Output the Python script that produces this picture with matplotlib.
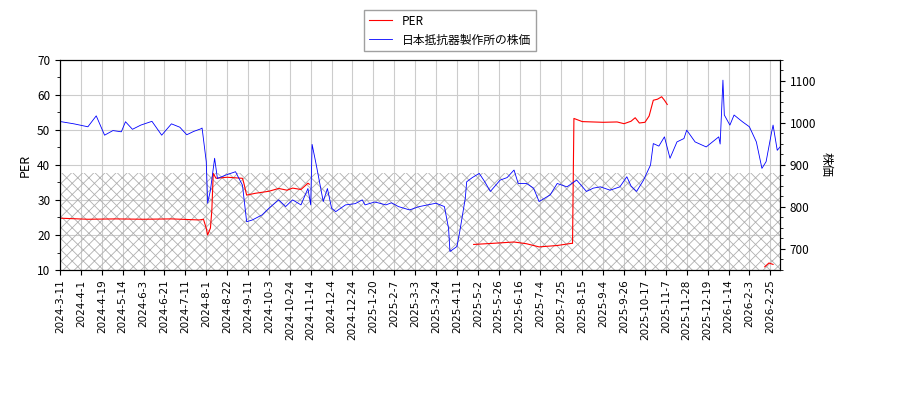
import matplotlib
matplotlib.use("Agg")
import matplotlib.pyplot as plt
import numpy as np
from matplotlib.ticker import MultipleLocator

plt.rcParams['font.family'] = ['Noto Sans CJK JP', 'DejaVu Sans']
plt.rcParams['hatch.color'] = '#b0b0b0'
plt.rcParams['hatch.linewidth'] = 0.6

tick_labels = ["2024-3-11","2024-4-1","2024-4-19","2024-5-14","2024-6-3","2024-6-21","2024-7-11",
    "2024-8-1","2024-8-22","2024-9-11","2024-10-3","2024-10-24","2024-11-14","2024-12-4","2024-12-24",
    "2025-1-20","2025-2-7","2025-3-3","2025-3-24","2025-4-11","2025-5-2","2025-5-26","2025-6-16",
    "2025-7-4","2025-7-25","2025-8-15","2025-9-4","2025-9-26","2025-10-17","2025-11-7","2025-11-28",
    "2025-12-19","2026-1-14","2026-2-3","2026-2-25"]

price_idx = [0,1,10,20,26,32,38,44,47,52,58,66,73,80,86,91,96,101,102,105,106,108,111,113,119,126,131,134,138,
    145,150,157,162,167,173,178,180,181,184,189,192,195,198,205,212,217,219,226,234,238,243,251,257,
    258,264,270,276,279,280,285,287,291,292,296,301,305,309,316,321,326,329,335,340,344,352,357,364,
    371,378,383,388,395,402,407,410,414,419,424,426,430,434,438,443,448,450,456,464,473,474,476,477,
    481,484,490,495,500,504,507,511,512,515,518]
price_val = [1003,1003,998,991,1017,971,982,979,1003,985,995,1004,971,998,990,972,980,986,988,908,809,840,916,868,
    876,884,852,765,769,781,797,817,801,817,805,844,805,949,900,813,844,797,789,805,808,817,805,812,805,
    810,801,793,800,801,805,809,801,749,694,706,741,821,860,870,880,860,837,864,870,888,856,856,845,813,
    829,856,848,864,837,845,848,840,848,872,850,837,864,900,951,945,967,916,955,963,983,955,943,967,950,
    1102,1019,995,1019,1003,991,955,892,908,979,995,935,947]

per_idx = [0,20,40,60,80,100,103,105,106,108,109,110,112,120,131,132,134,140,150,157,163,167,173,178,179,
    180,296,297,310,326,335,344,357,367,368,369,375,390,400,405,410,413,416,420,423,426,429,432,434,436,
    437,505,506,509,512]
per_val = [24.8,24.5,24.6,24.5,24.6,24.3,24.5,21.9,20.0,22.0,27.0,37.6,36.2,36.5,36.2,34.8,31.4,31.9,32.5,33.3,
    32.8,33.4,33.0,34.8,34.5,np.nan,np.nan,17.3,17.6,18.0,17.5,16.6,17.0,17.6,17.6,53.3,52.4,52.2,52.3,51.8,
    52.5,53.5,52.0,52.2,54.0,58.5,58.8,59.5,58.5,57.3,np.nan,np.nan,10.9,12.0,11.6]

fig = plt.figure(figsize=(9, 4), dpi=100)
ax = fig.add_axes([0.0667, 0.325, 0.8, 0.525])
ax2 = ax.twinx()

ax.fill_between([0, 517], 10, 37.6, facecolor='none', edgecolor='#b0b0b0', hatch='xxx', linewidth=0)
l1, = ax.plot(per_idx, per_val, color='red', lw=0.8, label='PER')
l2, = ax2.plot(price_idx, price_val, color='blue', lw=0.6, label='日本抵抗器製作所の株価')

ax.set_xlim(0, 517)
ax.set_ylim(10, 70)
ax2.set_ylim(650, 1150)
ax.set_xticks(np.arange(len(tick_labels)) * 15)
ax.set_xticklabels(tick_labels, rotation=90, fontsize=7.5, family='DejaVu Sans')
ax.yaxis.set_minor_locator(MultipleLocator(5))
ax2.yaxis.set_minor_locator(MultipleLocator(25))
ax.tick_params(axis='y', labelsize=8.5)
ax2.tick_params(axis='y', labelsize=8.5)
ax.grid(True, color='#cccccc', lw=0.8)
ax.set_axisbelow(True)
ax.set_ylabel('PER', fontsize=9)
ax2.set_ylabel('株価', fontsize=9, rotation=270, labelpad=12)
fig.legend([l1, l2], ['PER', '日本抵抗器製作所の株価'], loc='upper center', bbox_to_anchor=(0.5, 0.99),
           fontsize=8.5, fancybox=False, edgecolor='#888888')
fig.savefig('out.png')
